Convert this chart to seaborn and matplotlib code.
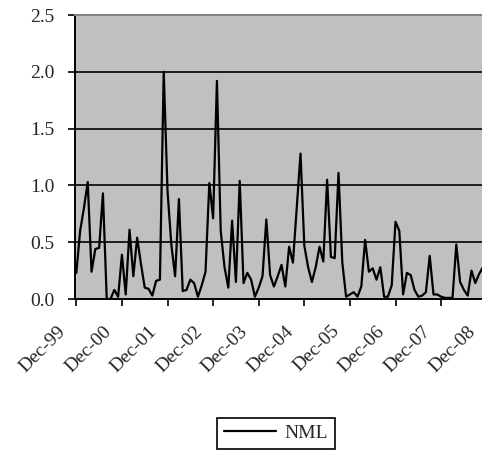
import numpy as np
import pandas as pd
import matplotlib
matplotlib.use("Agg")
import matplotlib.pyplot as plt
import matplotlib.transforms as mtransforms
import seaborn as sns

# monthly values starting Dec-99
nml = [0.23, 0.60, 0.80, 1.03, 0.24, 0.44, 0.45, 0.93, 0.00, 0.00, 0.08, 0.02,
       0.39, 0.04, 0.61, 0.20, 0.54, 0.31, 0.10, 0.09, 0.03, 0.16, 0.17, 2.00,
       0.95, 0.48, 0.20, 0.88, 0.07, 0.08, 0.17, 0.14, 0.02, 0.12, 0.24, 1.02,
       0.71, 1.92, 0.60, 0.28, 0.10, 0.69, 0.15, 1.04, 0.14, 0.23, 0.17, 0.02,
       0.10, 0.20, 0.70, 0.21, 0.11, 0.20, 0.30, 0.11, 0.46, 0.32, 0.80, 1.28,
       0.47, 0.28, 0.15, 0.28, 0.46, 0.33, 1.05, 0.37, 0.36, 1.11, 0.32, 0.02,
       0.04, 0.06, 0.02, 0.11, 0.52, 0.24, 0.27, 0.17, 0.28, 0.02, 0.02, 0.12,
       0.68, 0.60, 0.04, 0.23, 0.21, 0.08, 0.02, 0.03, 0.06, 0.38, 0.04, 0.04,
       0.02, 0.01, 0.01, 0.01, 0.48, 0.15, 0.08, 0.03, 0.25, 0.14, 0.22, 0.28]
months = list(range(len(nml)))
tick_labels = ["Dec-99", "Dec-00", "Dec-01", "Dec-02", "Dec-03",
               "Dec-04", "Dec-05", "Dec-06", "Dec-07", "Dec-08"]
y_ticks = [0.0, 0.5, 1.0, 1.5, 2.0, 2.5]

df = pd.DataFrame({"month": months, "NML": nml})

sns.set_theme(style="white")
plt.rcParams["font.family"] = "serif"
plt.rcParams["font.serif"] = ["Liberation Serif", "Times New Roman", "Nimbus Roman", "DejaVu Serif"]
plt.rcParams["font.size"] = 14

W, H = 482, 453
fig = plt.figure(figsize=(W / 100, H / 100), dpi=100)
left_px, right_px, top_px, bot_px = 75, 488.6, 15, 299
ax = fig.add_axes([left_px / W, 1 - bot_px / H, (right_px - left_px) / W, (bot_px - top_px) / H])
ax.set_facecolor("#C0C0C0")

sns.lineplot(data=df, x="month", y="NML", ax=ax, color="black", linewidth=1.6, label="NML", legend=False)

ax.set_xlim(-0.35, 108.5)
ax.set_ylim(0, 2.5)
ax.set_yticks(y_ticks)
ax.set_yticklabels([f"{v:.1f}" for v in y_ticks])
ax.set_xticks(list(range(0, 12 * len(tick_labels), 12)))
ax.set_xticklabels(tick_labels, rotation=45, ha="right", va="top", rotation_mode="anchor")
ax.set_xlabel("")
ax.set_ylabel("")

for v in y_ticks[1:-1]:
    ax.axhline(v, color="black", linewidth=1.2, zorder=1)

for side in ["left", "bottom"]:
    ax.spines[side].set_color("black")
    ax.spines[side].set_linewidth(1.4)
ax.spines["right"].set_visible(False)
ax.spines["top"].set_color("#808080")
ax.spines["top"].set_linewidth(1.4)

ax.tick_params(axis="y", direction="out", length=5, width=1.2, color="black", pad=10, labelsize=14)
ax.tick_params(axis="x", direction="out", length=5, width=1.2, color="black", pad=12, labelsize=14)
ax.tick_params(left=True, bottom=True)

offset = mtransforms.ScaledTranslation(-14 / 72, 0, fig.dpi_scale_trans)
for lab in ax.get_xticklabels():
    lab.set_transform(lab.get_transform() + offset)

handles, labels = ax.get_legend_handles_labels()
leg = fig.legend(handles, labels, loc="lower left", bbox_to_anchor=(217 / W, 1 - 449 / H),
                 borderaxespad=0, frameon=True, fancybox=False, edgecolor="black", framealpha=1,
                 handlelength=2.7, borderpad=0.35, handletextpad=0.4, fontsize=14)
leg.get_frame().set_linewidth(1.2)

fig.savefig("out.png", dpi=100)
